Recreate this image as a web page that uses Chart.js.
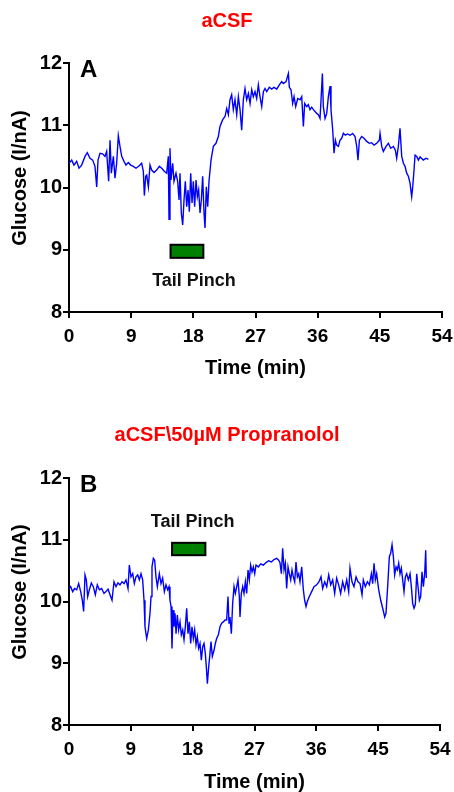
<!DOCTYPE html>
<html>
<head>
<meta charset="utf-8">
<script src="https://cdn.jsdelivr.net/npm/chart.js@4/dist/chart.umd.min.js"></script>
<style>
  html, body { margin: 0; padding: 0; background: #fff; }
  canvas { display: block; }
</style>
</head>
<body>
<canvas id="chartA" width="454" height="396"></canvas>
<canvas id="chartB" width="454" height="396"></canvas>
<script>
// ---------- DATA ----------
const xTicks = [0, 9, 18, 27, 36, 45, 54];
const yTicks = [8, 9, 10, 11, 12];

// Panel A: aCSF
const timeA = [0.00,0.39,0.72,1.11,1.45,1.83,2.32,2.65,3.04,3.43,3.76,4.01,4.20,4.49,4.87,5.21,5.45,5.74,5.94,6.13,6.42,6.66,6.90,7.14,7.38,7.63,7.96,8.25,8.59,8.93,9.31,9.70,10.09,10.52,10.76,10.91,11.10,11.25,11.49,11.73,11.97,12.31,12.69,13.08,13.42,13.80,14.14,14.38,14.48,14.62,14.77,15.01,15.20,15.49,15.73,15.93,16.07,16.26,16.46,16.65,16.84,17.04,17.23,17.42,17.62,17.81,18.00,18.19,18.39,18.58,18.77,18.97,19.16,19.35,19.55,19.69,19.88,20.08,20.27,20.56,20.90,21.28,21.62,21.86,22.25,22.59,22.83,23.07,23.31,23.55,23.79,24.03,24.28,24.52,24.76,25.00,25.24,25.48,25.72,25.97,26.21,26.45,26.69,26.93,27.17,27.41,27.65,27.90,28.14,28.38,28.62,29.00,29.34,29.68,30.07,30.45,30.79,31.03,31.42,31.76,31.90,32.14,32.38,32.58,32.82,33.11,33.45,33.69,33.93,34.12,34.41,34.65,34.89,35.14,35.38,35.62,35.86,36.10,36.34,36.49,36.68,36.82,37.07,37.31,37.55,37.79,37.93,38.18,38.37,38.56,38.75,39.00,39.24,39.48,39.72,40.01,40.30,40.69,41.07,41.41,41.65,41.84,42.04,42.37,42.71,43.10,43.48,43.82,44.16,44.55,44.93,45.03,45.27,45.51,45.90,46.24,46.57,46.96,47.25,47.44,47.68,47.92,48.17,48.41,48.65,48.89,49.13,49.37,49.61,49.76,49.95,50.10,50.34,50.58,50.82,51.30,51.69,52.03];
const glucoseA = [10.39,10.44,10.36,10.42,10.31,10.36,10.50,10.56,10.47,10.44,10.34,10.01,10.44,10.55,10.54,10.50,10.58,10.10,10.76,10.23,10.50,10.15,10.39,10.83,10.66,10.50,10.42,10.36,10.40,10.36,10.34,10.31,10.34,10.39,10.26,9.87,10.18,10.20,10.01,10.36,10.28,10.24,10.28,10.34,10.31,10.26,10.23,10.50,9.49,10.63,10.12,10.39,10.10,10.23,10.10,9.80,10.23,9.59,9.40,9.80,10.10,9.69,9.96,9.61,10.23,9.75,10.10,9.69,10.12,9.85,9.96,9.59,9.80,10.18,9.59,9.35,10.01,9.69,10.10,10.44,10.66,10.71,10.82,10.98,11.09,11.14,11.27,11.17,11.41,11.49,11.25,11.41,11.17,11.46,11.25,10.92,11.41,11.59,11.41,11.51,11.35,11.57,11.46,11.54,11.43,11.65,11.46,11.30,11.54,11.59,11.54,11.61,11.58,11.61,11.58,11.65,11.70,11.67,11.70,11.83,11.61,11.57,11.35,11.46,11.30,11.43,11.41,11.46,10.98,11.35,11.30,11.33,11.25,11.29,11.25,11.22,11.19,11.17,11.11,11.41,11.83,11.30,11.11,11.19,11.46,11.63,11.25,10.92,10.55,10.76,10.68,10.66,10.76,10.79,10.87,10.84,10.86,10.84,10.87,10.82,10.66,10.44,10.76,10.82,10.79,10.74,10.71,10.72,10.68,10.71,10.76,10.87,10.66,10.58,10.66,10.71,10.63,10.66,10.60,10.47,10.66,10.95,10.50,10.39,10.34,10.23,10.18,10.07,9.85,10.01,10.28,10.52,10.50,10.44,10.49,10.44,10.47,10.45];

// Panel B: aCSF\50µM Propranolol
const timeB = [0.00,0.24,0.53,0.82,1.12,1.41,1.70,1.94,2.13,2.33,2.52,2.72,2.96,3.25,3.54,3.83,4.12,4.42,4.75,5.09,5.39,5.68,5.97,6.26,6.55,6.84,7.13,7.42,7.71,8.01,8.30,8.59,8.78,9.02,9.27,9.51,9.75,10.00,10.24,10.48,10.72,10.92,11.06,11.31,11.55,11.79,11.94,12.08,12.28,12.47,12.66,12.86,13.15,13.39,13.63,13.88,14.12,14.36,14.56,14.70,14.85,14.99,15.14,15.28,15.43,15.58,15.77,15.96,16.16,16.35,16.55,16.74,16.93,17.13,17.32,17.52,17.71,17.90,18.10,18.29,18.49,18.68,18.87,19.07,19.26,19.46,19.65,19.84,19.99,20.14,20.33,20.52,20.67,20.86,21.11,21.30,21.49,21.74,21.98,22.22,22.46,22.71,22.95,23.14,23.29,23.43,23.63,23.82,24.02,24.21,24.41,24.60,24.79,24.89,25.08,25.28,25.47,25.67,25.86,26.06,26.25,26.44,26.64,26.83,27.03,27.22,27.56,27.90,28.29,28.68,29.06,29.45,29.84,30.23,30.52,30.71,30.91,31.10,31.30,31.49,31.68,31.88,32.07,32.27,32.46,32.65,32.85,33.04,33.24,33.43,33.62,33.87,34.11,34.30,34.50,34.69,34.98,35.32,35.66,36.05,36.39,36.68,36.92,37.22,37.51,37.80,38.09,38.38,38.67,38.96,39.25,39.54,39.83,40.13,40.42,40.71,40.90,41.19,41.48,41.78,42.07,42.36,42.65,42.84,43.13,43.43,43.72,44.01,44.20,44.40,44.59,44.78,45.08,45.37,45.66,45.95,46.14,46.38,46.63,46.82,47.02,47.21,47.40,47.60,47.79,47.99,48.18,48.37,48.57,48.76,48.96,49.15,49.39,49.64,49.83,50.02,50.22,50.41,50.61,50.80,51.00,51.19,51.38,51.58,51.77,51.92,52.01];
const glucoseB = [10.21,10.24,10.16,10.21,10.19,10.29,10.16,10.02,9.84,10.43,10.35,10.08,10.19,10.30,10.24,10.11,10.27,10.19,10.21,10.13,10.16,10.20,10.11,10.02,10.32,10.24,10.30,10.27,10.32,10.29,10.35,10.21,10.59,10.40,10.45,10.29,10.40,10.43,10.35,10.45,10.35,10.02,9.59,9.40,9.54,9.81,10.08,10.56,10.70,10.67,10.40,10.24,10.45,10.29,10.38,10.16,10.27,10.19,10.24,10.02,9.92,9.24,9.86,9.59,9.81,9.48,9.78,9.54,9.67,9.46,9.54,9.38,9.59,9.89,9.48,9.67,9.32,9.59,9.40,9.54,9.30,9.43,9.24,9.32,9.05,9.27,9.32,9.16,8.94,8.67,8.94,9.16,9.35,9.11,9.21,9.32,9.40,9.46,9.59,9.65,9.67,9.70,9.70,10.08,9.65,9.75,9.48,9.97,10.24,10.13,10.24,10.35,10.08,9.75,10.13,10.24,10.13,10.32,10.13,10.51,10.35,10.59,10.48,10.56,10.45,10.59,10.56,10.61,10.59,10.63,10.66,10.64,10.68,10.70,10.67,10.63,10.45,10.86,10.51,10.62,10.21,10.56,10.45,10.35,10.51,10.40,10.32,10.64,10.40,10.45,10.32,10.56,10.19,10.02,9.92,10.00,10.08,10.16,10.24,10.27,10.32,10.40,10.21,10.32,10.24,10.43,10.27,10.35,10.13,10.38,10.27,10.13,10.32,10.19,10.35,10.16,10.54,10.32,10.24,10.40,10.32,10.29,10.11,10.35,10.24,10.32,10.27,10.45,10.29,10.62,10.35,10.45,10.19,10.02,9.89,9.75,9.81,10.24,10.73,10.78,10.92,10.73,10.43,10.56,10.51,10.62,10.45,10.54,10.35,10.16,10.40,10.45,10.35,10.45,10.24,9.97,9.89,9.95,10.45,10.24,10.02,10.08,10.48,10.24,10.45,10.83,10.38];

// Tail pinch markers: [start min, end min, low value, high value]
const pinchA = [14.7, 19.45, 8.87, 9.08];
const pinchB = [15.0, 19.85, 10.75, 10.95];
// Label anchor [min, value]
const pinchLabelA = [18.1, 8.42];
const pinchLabelB = [18.0, 11.21];

// ---------- CHART ----------
const FONT = '"Liberation Sans", Arial, Helvetica, sans-serif';

const annotPlugin = {
  id: 'annot',
  afterDatasetsDraw(chart, args, opts) {
    const ctx = chart.ctx;
    const xs = chart.scales.x, ys = chart.scales.y;
    const ca = chart.chartArea;
    ctx.save();
    // pinch bar
    const x1 = xs.getPixelForValue(opts.bar[0]);
    const x2 = xs.getPixelForValue(opts.bar[1]);
    const y1 = ys.getPixelForValue(opts.bar[3]);
    const y2 = ys.getPixelForValue(opts.bar[2]);
    ctx.fillStyle = '#008000';
    ctx.fillRect(x1, y1, x2 - x1, y2 - y1);
    ctx.strokeStyle = '#000';
    ctx.lineWidth = 2;
    ctx.strokeRect(x1, y1, x2 - x1, y2 - y1);
    // pinch label
    ctx.fillStyle = '#111';
    ctx.font = 'bold 18px ' + FONT;
    ctx.textAlign = 'center';
    ctx.textBaseline = 'alphabetic';
    ctx.fillText('Tail Pinch', xs.getPixelForValue(opts.label[0]), ys.getPixelForValue(opts.label[1]));
    // panel letter
    ctx.font = 'bold 24px ' + FONT;
    ctx.textAlign = 'left';
    ctx.fillStyle = '#000';
    ctx.fillText(opts.panel, ca.left + 11, ca.top + 14);
    // y axis title
    ctx.translate(20.5, (ca.top + ca.bottom) / 2 - 9.5);
    ctx.rotate(-Math.PI / 2);
    ctx.font = 'bold 20px ' + FONT;
    ctx.textAlign = 'center';
    ctx.textBaseline = 'middle';
    ctx.fillText('Glucose (I/nA)', 0, 0);
    ctx.restore();
  }
};

function makeChart(id, times, vals, title, titlePad, bar, label, panel, xHeight, xTitlePad, padRight) {
  const pts = times.map((t, i) => ({x: t, y: vals[i]}));
  return new Chart(document.getElementById(id), {
    type: 'line',
    data: {
      datasets: [{
        data: pts,
        borderColor: '#0000ff',
        borderWidth: 1.4,
        pointRadius: 0,
        tension: 0,
        fill: false
      }]
    },
    plugins: [annotPlugin],
    options: {
      responsive: false,
      animation: false,
      layout: { padding: { left: 0, right: 0, top: 0, bottom: 0 } },
      plugins: {
        legend: { display: false },
        tooltip: { enabled: false },
        title: {
          display: true,
          text: title,
          color: '#ff0000',
          font: { family: FONT, size: 20, weight: 'bold' },
          padding: titlePad
        },
        annot: { bar: bar, label: label, panel: panel }
      },
      scales: {
        x: {
          type: 'linear',
          min: xTicks[0], max: xTicks[xTicks.length - 1],
          afterBuildTicks: (s) => { s.ticks = xTicks.map(v => ({value: v})); },
          afterFit: (s) => { s.height = xHeight; s.paddingRight = padRight; s.paddingLeft = 0; },
          grid: { display: true, drawOnChartArea: false, drawTicks: true, tickLength: 6, color: '#000', lineWidth: 2 },
          border: { display: true, color: '#000', width: 2 },
          ticks: { color: '#000', padding: 7, maxRotation: 0, font: { family: FONT, size: 19, weight: 'bold' } },
          title: { display: true, text: 'Time (min)', color: '#000', font: { family: FONT, size: 20, weight: 'bold' }, padding: xTitlePad }
        },
        y: {
          type: 'linear',
          min: yTicks[0], max: yTicks[yTicks.length - 1],
          afterBuildTicks: (s) => { s.ticks = yTicks.map(v => ({value: v})); },
          afterFit: (s) => { s.width = 69; },
          grid: { display: true, drawOnChartArea: false, drawTicks: true, tickLength: 6, color: '#000', lineWidth: 2 },
          border: { display: true, color: '#000', width: 2 },
          ticks: { color: '#000', padding: 1, font: { family: FONT, size: 20, weight: 'bold' } },
          title: { display: false, text: 'Glucose (I/nA)' }
        }
      }
    }
  });
}

makeChart('chartA', timeA, glucoseA, 'aCSF', { top: 9, bottom: 30 }, pinchA, pinchLabelA, 'A', 84, { top: 9, bottom: 16 }, 12);
makeChart('chartB', timeB, glucoseB, 'aCSF\\50\u00B5M Propranolol', { top: 27, bottom: 31 }, pinchB, pinchLabelB, 'B', 67, { top: 2, bottom: -2 }, 14);
</script>
</body>
</html>
